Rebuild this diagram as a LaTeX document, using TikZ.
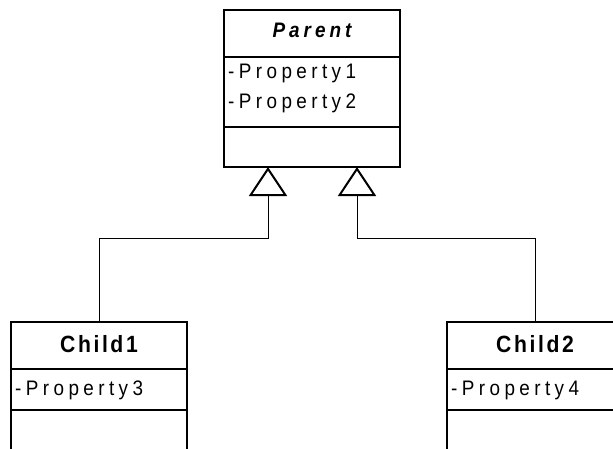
\documentclass[tikz,border=0pt]{standalone}
\usepackage{fontspec}
\setmainfont{Liberation Sans}
\newfontfamily\attrfont{Liberation Sans}[FakeStretch=0.9,LetterSpace=21]
\newfontfamily\titlefont{Liberation Sans}[FakeStretch=0.9,LetterSpace=11]
\newfontfamily\abstractfont{Liberation Sans}[FakeStretch=0.9,LetterSpace=19]
\usetikzlibrary{arrows.meta}
\begin{document}
\begin{tikzpicture}[x=1pt,y=-1pt,
  compart/.style={draw,line width=2pt,minimum width=176pt,inner sep=0pt,outer sep=0pt,anchor=north west},
  lbl/.style={inner sep=0pt},
  ttl/.style={lbl,anchor=base,font=\titlefont\fontsize{23.5}{28}\selectfont\bfseries},
  abstl/.style={lbl,anchor=base,font=\abstractfont\fontsize{21}{25}\selectfont\bfseries\itshape},
  attr/.style={lbl,anchor=base west,font=\attrfont\fontsize{21}{25}\selectfont},
  gen/.style={line width=1pt,-{Triangle[open,length=29pt,width=38pt,line width=2pt]}}]
\clip (0,0) rectangle (613,448);
% Parent class
\node[compart,minimum height=47pt] (pt) at (224,10) {};
\node[compart,minimum height=70pt] (pa) at (pt.south west) {};
\node[compart,minimum height=40pt] (po) at (pa.south west) {};
\node[abstl] (ptl) at (pt.center |- 0,37) {Parent};
\node[attr] (pa1) at (228,78) {-Property1};
\node[attr] (pa2) at (228,108) {-Property2};
% Child1 class
\node[compart,minimum height=47pt] (c1t) at (11,322) {};
\node[compart,minimum height=41pt] (c1a) at (c1t.south west) {};
\node[compart,minimum height=60pt] (c1o) at (c1a.south west) {};
\node[ttl] (c1l) at (c1t.center |- 0,352) {Child1};
\node[attr] (c1a1) at (15,395) {-Property3};
% Child2 class
\node[compart,minimum height=47pt] (c2t) at (447,322) {};
\node[compart,minimum height=41pt] (c2a) at (c2t.south west) {};
\node[compart,minimum height=60pt] (c2o) at (c2a.south west) {};
\node[ttl] (c2l) at (c2t.center |- 0,352) {Child2};
\node[attr] (c2a1) at (451,395) {-Property4};
% Generalisation connectors
\coordinate (j1) at (268,238);
\coordinate (j2) at (357,238);
\draw[gen] (c1t.north) |- (j1) -- (j1 |- po.south);
\draw[gen] (c2t.north) |- (j2) -- (j2 |- po.south);
\end{tikzpicture}
\end{document}
